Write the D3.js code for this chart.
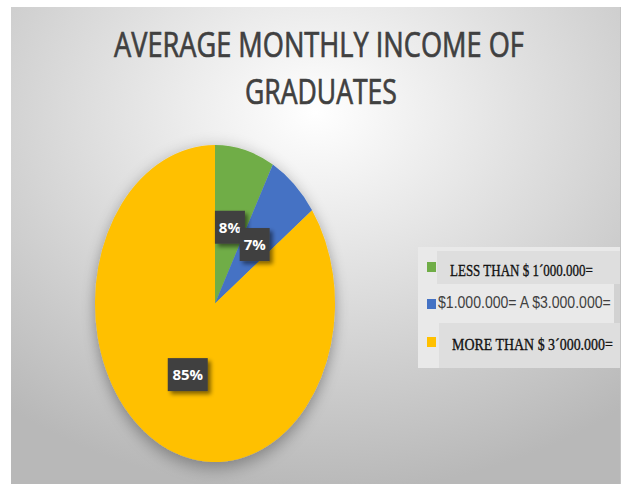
<!DOCTYPE html>
<html>
<head>
<meta charset="utf-8">
<script src="https://cdn.jsdelivr.net/npm/d3@7"></script>
<style>
  body { margin: 0; background: #fff; }
  svg { display: block; }
</style>
</head>
<body>
<div id="chart"></div>
<script>
// data
var categories = ["LESS THAN $ 1\u00B4000.000=", "$1.000.000= A $3.000.000=", "MORE THAN $ 3\u00B4000.000="];
var values = [8, 7, 85];
var sliceLabels = ["8%", "7%", "85%"];
var colors = ["#70ad47", "#4472c4", "#ffc000"];

var width = 631, height = 484;

var svg = d3.select("#chart").append("svg")
  .attr("width", width)
  .attr("height", height);

var defs = svg.append("defs");
var bg = defs.append("radialGradient").attr("id", "bg")
  .attr("cx", "50%").attr("cy", "22%").attr("r", "80%");
bg.append("stop").attr("offset", "0%").attr("stop-color", "#ffffff");
bg.append("stop").attr("offset", "100%").attr("stop-color", "#b8b8b8");

var pieShadow = defs.append("filter").attr("id", "pieShadow")
  .attr("x", "-20%").attr("y", "-20%").attr("width", "140%").attr("height", "140%");
pieShadow.append("feGaussianBlur").attr("in", "SourceAlpha").attr("stdDeviation", 7);
pieShadow.append("feOffset").attr("dx", 0).attr("dy", 4).attr("result", "b");
pieShadow.append("feComponentTransfer").append("feFuncA").attr("type", "linear").attr("slope", 0.35);
var m1 = pieShadow.append("feMerge");
m1.append("feMergeNode");
m1.append("feMergeNode").attr("in", "SourceGraphic");

var boxShadow = defs.append("filter").attr("id", "boxShadow")
  .attr("x", "-30%").attr("y", "-30%").attr("width", "170%").attr("height", "170%");
boxShadow.append("feGaussianBlur").attr("in", "SourceAlpha").attr("stdDeviation", 2);
boxShadow.append("feOffset").attr("dx", 3).attr("dy", 3);
boxShadow.append("feComponentTransfer").append("feFuncA").attr("type", "linear").attr("slope", 0.5);
var m2 = boxShadow.append("feMerge");
m2.append("feMergeNode");
m2.append("feMergeNode").attr("in", "SourceGraphic");

// squeeze a text horizontally so it spans the given width (the source picture is stretched)
function fitText(sel, x, y, w, anchor) {
  sel.each(function() {
    var t = d3.select(this);
    var natural = this.getComputedTextLength();
    var k = w / natural;
    var x0 = anchor === "middle" ? x - w / 2 : x;
    t.attr("x", 0).attr("y", 0).attr("text-anchor", "start")
     .attr("transform", "translate(" + x0 + "," + y + ") scale(" + k + ",1)");
  });
}

// chart area background
svg.append("rect")
  .attr("x", 11).attr("y", 7)
  .attr("width", 609).attr("height", 477)
  .attr("fill", "url(#bg)");
svg.append("line")
  .attr("x1", 620.5).attr("x2", 620.5).attr("y1", 7).attr("y2", 484)
  .attr("stroke", "#c4c4c4");

// title
var titleFont = "'Liberation Sans Narrow', 'Open Sans', sans-serif";
svg.append("text")
  .attr("font-family", titleFont).attr("font-size", 34)
  .attr("fill", "#404040").attr("stroke", "#404040").attr("stroke-width", 0.7)
  .text("AVERAGE MONTHLY INCOME OF")
  .call(fitText, 319, 57, 410, "middle");
svg.append("text")
  .attr("font-family", titleFont).attr("font-size", 34)
  .attr("fill", "#404040").attr("stroke", "#404040").attr("stroke-width", 0.7)
  .text("GRADUATES")
  .call(fitText, 321, 104, 152, "middle");

// pie (elliptical, as in the picture)
var rx = 120, ry = 158.5;
var cx = 215, cy = 303.5;

var pie = d3.pie().sort(null).value(function(d) { return d; });
var arcs = pie(values);
var arc = d3.arc().innerRadius(0).outerRadius(rx);

var pieG = svg.append("g")
  .attr("transform", "translate(" + cx + "," + cy + ") scale(1," + (ry / rx) + ")")
  .attr("filter", "url(#pieShadow)");

pieG.selectAll("path")
  .data(arcs)
  .enter()
  .append("path")
  .attr("d", arc)
  .attr("fill", function(d, i) { return colors[i]; });

// data labels
var labels = svg.append("g").selectAll("g")
  .data(arcs)
  .enter()
  .append("g")
  .attr("transform", function(d) {
    var c = arc.centroid(d);
    return "translate(" + (cx + c[0]) + "," + (cy + c[1] * ry / rx) + ")";
  });

labels.append("rect")
  .attr("x", function(d, i) { return sliceLabels[i].length > 2 ? -20 : -15; })
  .attr("y", -16)
  .attr("width", function(d, i) { return sliceLabels[i].length > 2 ? 40 : 30; })
  .attr("height", 33)
  .attr("fill", "#404040")
  .attr("filter", "url(#boxShadow)");

labels.append("text")
  .attr("text-anchor", "middle")
  .attr("dy", 6)
  .attr("font-family", "'Open Sans', sans-serif")
  .attr("font-weight", "bold")
  .attr("font-size", 15)
  .attr("fill", "#ffffff")
  .text(function(d, i) { return sliceLabels[i]; });

// legend
svg.append("rect")
  .attr("x", 418).attr("y", 247).attr("width", 202).attr("height", 121)
  .attr("fill", "#e9e9e9");
svg.append("rect")
  .attr("x", 437).attr("y", 251).attr("width", 183).attr("height", 33)
  .attr("fill", "#dedede");
svg.append("rect")
  .attr("x", 614).attr("y", 284).attr("width", 6).attr("height", 39)
  .attr("fill", "#d2d2d2");
svg.append("rect")
  .attr("x", 439).attr("y", 323).attr("width", 181).attr("height", 45)
  .attr("fill", "#dedede");

var legendRows = [
  { sq: 262, base: 276, x: 450, len: 143, font: "'Liberation Serif', 'Times New Roman', serif", size: 17, sw: 0.35 },
  { sq: 299, base: 308, x: 438, len: 173, font: "'Liberation Sans Narrow', 'Liberation Sans', sans-serif", size: 16, sw: 0 },
  { sq: 337, base: 350, x: 452, len: 161, font: "'Liberation Serif', 'Times New Roman', serif", size: 17, sw: 0.35 }
];

var legend = svg.append("g").selectAll("g")
  .data(categories)
  .enter()
  .append("g");

legend.append("rect")
  .attr("x", 427)
  .attr("y", function(d, i) { return legendRows[i].sq; })
  .attr("width", 9).attr("height", 10)
  .attr("fill", function(d, i) { return colors[i]; });

legend.append("text")
  .attr("font-family", function(d, i) { return legendRows[i].font; })
  .attr("font-size", function(d, i) { return legendRows[i].size; })
  .attr("fill", function(d, i) { return i === 1 ? "#404040" : "#111111"; })
  .attr("stroke", "#111111")
  .attr("stroke-width", function(d, i) { return legendRows[i].sw; })
  .text(function(d) { return d; })
  .each(function(d, i) {
    var r = legendRows[i];
    d3.select(this).call(fitText, r.x, r.base, r.len, "start");
  });
</script>
</body>
</html>
